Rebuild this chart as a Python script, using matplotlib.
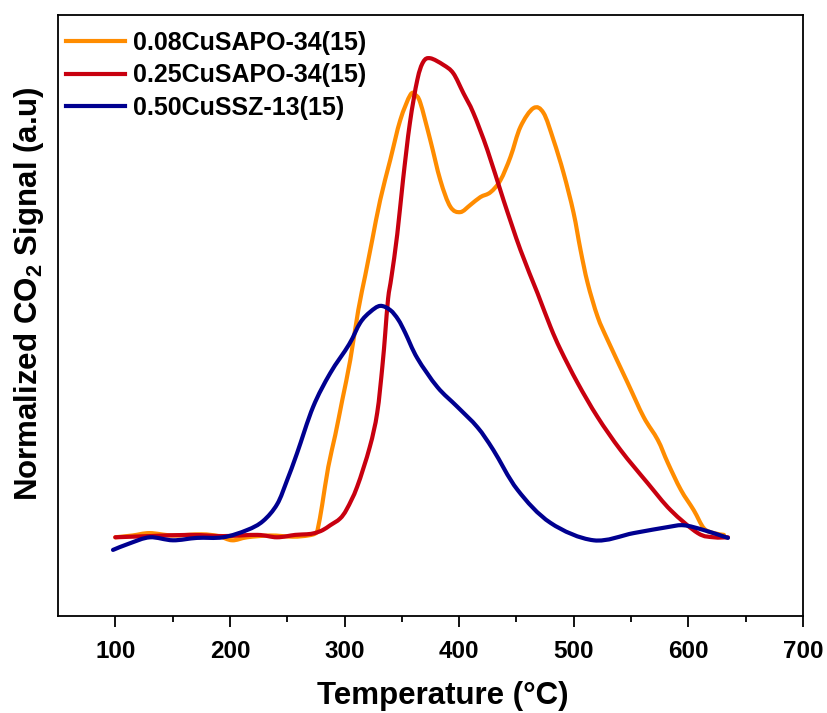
import matplotlib
matplotlib.use("Agg")
import matplotlib.pyplot as plt
import numpy as np
from matplotlib.path import Path
from matplotlib.patches import PathPatch

plt.rcParams['font.family'] = ['Liberation Sans', 'DejaVu Sans']
plt.rcParams['font.weight'] = 'bold'
plt.rcParams['mathtext.fontset'] = 'custom'
plt.rcParams['mathtext.rm'] = 'Liberation Sans:bold'
plt.rcParams['mathtext.bf'] = 'Liberation Sans:bold'
plt.rcParams['mathtext.default'] = 'rm'

labels = ["0.08CuSAPO-34(15)", "0.25CuSAPO-34(15)", "0.50CuSSZ-13(15)"]
colors = ["#FF8C00", "#C8000F", "#000090"]

t_orange = [100, 115, 130, 150, 175, 190, 202, 215, 235, 255, 268, 275, 277.0, 280.5, 285.8, 291.9,
            298.0, 305.0, 312.0, 318.1, 324.2, 331.1, 339.9, 348.6, 357.4, 361.7, 366.1, 374.8,
            383.6, 392.3, 401.0, 409.8, 418.5, 427.3, 436.0, 444.8, 453.5, 464.8, 473.6, 482.3,
            491.1, 499.8, 505.9, 512.1, 520.8, 529.6, 547.0, 561.0, 573.3, 582.0, 593.4, 604.7,
            613.5, 622.2, 631.0]
s_orange = [0.131, 0.134, 0.138, 0.134, 0.136, 0.133, 0.126, 0.131, 0.134, 0.132, 0.134, 0.138, 0.148,
            0.185, 0.248, 0.301, 0.359, 0.426, 0.509, 0.567, 0.626, 0.692, 0.759, 0.825, 0.867,
            0.867, 0.854, 0.792, 0.725, 0.681, 0.672, 0.684, 0.697, 0.705, 0.725, 0.764, 0.814,
            0.845, 0.837, 0.792, 0.737, 0.671, 0.609, 0.554, 0.498, 0.459, 0.388, 0.331, 0.293,
            0.255, 0.210, 0.176, 0.146, 0.138, 0.135]

t_red = [100, 130, 165, 194, 224, 241, 257, 267, 274, 281, 287.5, 296, 302, 311, 322, 328.5,
         333, 335.5, 338, 341, 346, 351, 357, 363.5, 368.7, 374.8, 386.2, 394.9, 403.7, 412.4,
         424.7, 438.7, 453.5, 468.4, 479.7, 488.5, 503.3, 520.8, 540.9, 564.5,
         584.6, 608.2, 622.2, 634.5]
s_red = [0.131, 0.133, 0.135, 0.133, 0.135, 0.131, 0.135, 0.136, 0.138, 0.143, 0.151, 0.162, 0.178,
         0.215, 0.281, 0.338, 0.415, 0.470, 0.528, 0.565, 0.635, 0.725, 0.820, 0.892, 0.922,
         0.928, 0.917, 0.903, 0.870, 0.837, 0.775, 0.692, 0.609, 0.537, 0.481, 0.443,
         0.388, 0.331, 0.276, 0.221, 0.176, 0.138, 0.131, 0.131]

t_blue = [98, 112.7, 130.2, 150.3, 171.2, 194, 214.9, 228.9, 241.2, 249.9, 258.6, 272.6, 287.5,
          304.0, 313.7, 322.4, 331.1, 339.9, 346.9, 353.0, 363.5, 381.0, 398.5, 416.0, 429.9,
          450.9, 479.7, 517.3, 552.3, 582.0, 596.0, 613.5, 634.5]
s_blue = [0.110, 0.121, 0.131, 0.126, 0.130, 0.131, 0.143, 0.158, 0.186, 0.226, 0.271, 0.348, 0.404,
          0.452, 0.488, 0.506, 0.516, 0.509, 0.493, 0.471, 0.429, 0.381, 0.348, 0.314, 0.276,
          0.210, 0.155, 0.126, 0.138, 0.148, 0.151, 0.143, 0.130]

xticks = [100, 200, 300, 400, 500, 600, 700]


def smooth_path(x, y):
    """Catmull-Rom curve through the read points, drawn as cubic Bezier segments."""
    p = np.column_stack([x, y]).astype(float)
    ext = np.vstack([p[0], p, p[-1]])
    verts = [p[0]]
    codes = [Path.MOVETO]
    for i in range(1, len(ext) - 2):
        p0, p1, p2, p3 = ext[i - 1], ext[i], ext[i + 1], ext[i + 2]
        c1 = p1 + (p2 - p0) / 6.0
        c2 = p2 - (p3 - p1) / 6.0
        verts += [c1, c2, p2]
        codes += [Path.CURVE4] * 3
    return Path(verts, codes)


fig = plt.figure(figsize=(8.27, 7.13), dpi=100)
ax = fig.add_axes([0.0701, 0.136, 0.9009, 0.843])

for t, s, lab, c in zip([t_orange, t_red, t_blue], [s_orange, s_red, s_blue], labels, colors):
    patch = PathPatch(smooth_path(t, s), facecolor='none', edgecolor=c, lw=3.0,
                      capstyle='round', joinstyle='round')
    ax.add_patch(patch)
    ax.plot([], [], color=c, lw=3.0, label=lab)

ax.set_xlim(50, 700)
ax.set_ylim(0, 1)
ax.set_xticks(xticks)
ax.set_xticks([150, 250, 350, 450, 550, 650], minor=True)
ax.set_yticks([])
ax.tick_params(axis='x', which='major', length=8, width=1.3, labelsize=17.5, pad=9)
ax.tick_params(axis='x', which='minor', length=4, width=1.3)
for lbl in ax.get_xticklabels():
    lbl.set_fontweight('bold')
for sp in ax.spines.values():
    sp.set_linewidth(1.3)

ax.set_xlabel('Temperature (°C)', fontsize=22.5, fontweight='bold')
ax.set_ylabel('Normalized CO$_2$ Signal (a.u)', fontsize=22.5, fontweight='bold')
ax.xaxis.set_label_coords(0.517, -0.108)
ax.yaxis.set_label_coords(-0.016, 0.537)

leg = ax.legend(loc='upper left', bbox_to_anchor=(-0.002, 0.99), frameon=False, fontsize=18,
                handlelength=2.35, borderaxespad=0.0, handletextpad=0.3, labelspacing=0.34)
for txt in leg.get_texts():
    txt.set_fontweight('bold')

fig.savefig('out.png', dpi=100)
